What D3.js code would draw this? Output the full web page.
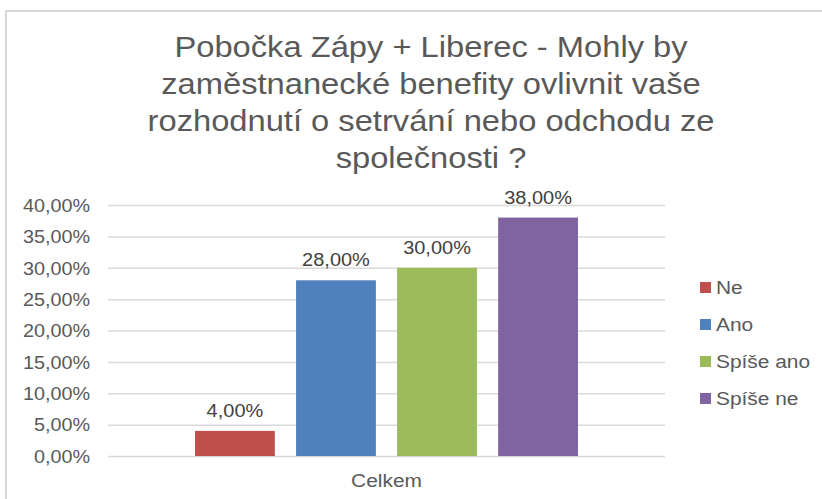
<!DOCTYPE html>
<html>
<head>
<meta charset="utf-8">
<script src="https://cdn.jsdelivr.net/npm/d3@7"></script>
<style>
  body { margin: 0; background: #fff; }
  svg { display: block; font-family: "Liberation Sans", Arial, sans-serif; }
</style>
</head>
<body>
<svg id="chart" width="822" height="499"></svg>
<script>
// data
const category = 'Celkem';
const series = ['Ne', 'Ano', 'Spíše ano', 'Spíše ne'];
const values = [4, 28, 30, 38];
const yTicks = [0, 5, 10, 15, 20, 25, 30, 35, 40];
const colors = ['#C0504D', '#4F81BD', '#9BBB59', '#8064A2'];
const titleLines = [
    'Pobočka Zápy + Liberec - Mohly by',
    'zaměstnanecké benefity ovlivnit vaše',
    'rozhodnutí o setrvání nebo odchodu ze',
    'společnosti ?'
];

// the original text is a bit wider than Liberation Sans
const SX = 1.1;
const placeText = (sel, x, y, sx = SX) =>
    sel.attr('transform', `translate(${x},${y}) scale(${sx},1)`);

const svg = d3.select('#chart');
const fmt = v => d3.format('.2f')(v).replace('.', ',') + '%';

// chart frame
svg.append('rect')
    .attr('x', 6).attr('y', 11)
    .attr('width', 830).attr('height', 500)
    .attr('fill', '#fff')
    .attr('stroke', '#d9d9d9')
    .attr('stroke-width', 2);

// title
svg.append('g').selectAll('text')
    .data(titleLines)
    .enter().append('text')
    .each(function (d, i) {
        placeText(d3.select(this), 431, 57 + i * 37, 1.09);
    })
    .attr('text-anchor', 'middle')
    .attr('fill', '#595959')
    .style('font-size', '30px')
    .text(d => d);

const plot = { left: 108, right: 665, top: 205, bottom: 456 };

const y = d3.scaleLinear().domain([0, 40]).range([plot.bottom, plot.top]);
const x0 = d3.scaleBand().domain([category]).range([plot.left, plot.right]).padding(0.159);
const x1 = d3.scaleBand().domain(series).range([0, x0.bandwidth()]).paddingInner(0.21).paddingOuter(0.105);

// gridlines + y labels
const yAxis = d3.axisLeft(y)
    .tickValues(yTicks)
    .tickSize(-(plot.right - plot.left))
    .tickFormat(fmt);

const ga = svg.append('g')
    .attr('transform', `translate(${plot.left},0)`)
    .call(yAxis);
ga.select('.domain').remove();
ga.selectAll('line').attr('stroke', '#d9d9d9').attr('stroke-width', 1.5);
ga.selectAll('text')
    .attr('x', 0)
    .attr('transform', `translate(-18,0) scale(${SX},1)`)
    .attr('fill', '#595959')
    .style('font-size', '18px')
    .attr('dy', '0.35em');

// x label
svg.append('text')
    .call(placeText, x0(category) + x0.bandwidth() / 2, 487)
    .attr('text-anchor', 'middle')
    .attr('fill', '#595959')
    .style('font-size', '19px')
    .text(category);

// bars
const bars = svg.append('g')
    .attr('transform', `translate(${x0(category)},0)`);

bars.selectAll('rect')
    .data(series)
    .enter().append('rect')
    .attr('x', d => x1(d))
    .attr('y', (d, i) => y(values[i]))
    .attr('width', x1.bandwidth())
    .attr('height', (d, i) => y(0) - y(values[i]))
    .attr('fill', (d, i) => colors[i]);

bars.selectAll('text')
    .data(series)
    .enter().append('text')
    .each(function (d, i) {
        placeText(d3.select(this), x1(d) + x1.bandwidth() / 2, y(values[i]) - 14, 1.08);
    })
    .attr('text-anchor', 'middle')
    .attr('fill', '#404040')
    .style('font-size', '18.5px')
    .text((d, i) => fmt(values[i]));

// legend
const legend = svg.append('g').attr('transform', 'translate(700,287)');
const item = legend.selectAll('g')
    .data(series)
    .enter().append('g')
    .attr('transform', (d, i) => `translate(0,${i * 37})`);
item.append('rect')
    .attr('x', 0).attr('y', -5)
    .attr('width', 11).attr('height', 11)
    .attr('fill', (d, i) => colors[i]);
item.append('text')
    .call(placeText, 16, 0)
    .attr('dy', '0.35em')
    .attr('fill', '#595959')
    .style('font-size', '19px')
    .text(d => d);
</script>
</body>
</html>
